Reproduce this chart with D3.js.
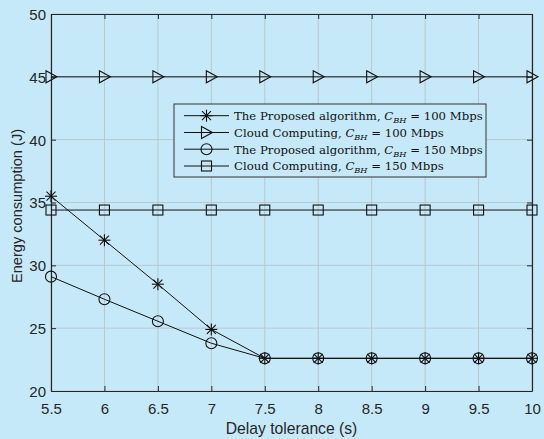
<!DOCTYPE html>
<html><head><meta charset="utf-8">
<script src="https://cdn.jsdelivr.net/npm/d3@7"></script>
<style>html,body{margin:0;padding:0;background:#c6e9f9;}svg{display:block;}</style>
</head><body>
<svg id="c" width="544" height="439"></svg>
<script>
const delays = [5.5, 6, 6.5, 7, 7.5, 8, 8.5, 9, 9.5, 10];
const proposed100 = [35.5, 32.0, 28.5, 24.9, 22.6, 22.6, 22.6, 22.6, 22.6, 22.6];
const cloud100 = [45, 45, 45, 45, 45, 45, 45, 45, 45, 45];
const proposed150 = [29.1, 27.3, 25.55, 23.8, 22.6, 22.6, 22.6, 22.6, 22.6, 22.6];
const cloud150 = [34.4, 34.4, 34.4, 34.4, 34.4, 34.4, 34.4, 34.4, 34.4, 34.4];
const xTicks = [5.5, 6, 6.5, 7, 7.5, 8, 8.5, 9, 9.5, 10];
const yTicks = [20, 25, 30, 35, 40, 45, 50];
const seriesNames = ["The Proposed algorithm, ", "Cloud Computing, ", "The Proposed algorithm, ", "Cloud Computing, "];
const seriesRates = ["100", "100", "150", "150"];
const seriesMarkers = ["asterisk", "triangle", "circle", "square"];

const svg = d3.select("#c");
const L = 51, R = 532, T = 14, B = 391;
const x = d3.scaleLinear().domain([5.5, 10]).range([L, R]);
const y = d3.scaleLinear().domain([20, 50]).range([B, T]);
const ink = "#262626";

// grid
svg.append("g").selectAll("line").data(xTicks).join("line")
  .attr("x1", d => x(d)).attr("x2", d => x(d)).attr("y1", T).attr("y2", B)
  .attr("stroke", "#b9c7cf").attr("stroke-width", 1);
svg.append("g").selectAll("line").data(yTicks).join("line")
  .attr("y1", d => y(d)).attr("y2", d => y(d)).attr("x1", L).attr("x2", R)
  .attr("stroke", "#b9c7cf").attr("stroke-width", 1);

// axes
const xa = svg.append("g").attr("transform", `translate(0,${B})`)
  .call(d3.axisBottom(x).tickValues(xTicks).tickSizeInner(-5).tickSizeOuter(0).tickPadding(12).tickFormat(d3.format("")));
const xt = svg.append("g").attr("transform", `translate(0,${T})`)
  .call(d3.axisTop(x).tickValues(xTicks).tickSizeInner(-5).tickSizeOuter(0).tickFormat(""));
const ya = svg.append("g").attr("transform", `translate(${L},0)`)
  .call(d3.axisLeft(y).tickValues(yTicks).tickSizeInner(-5).tickSizeOuter(0).tickPadding(5));
const yr = svg.append("g").attr("transform", `translate(${R},0)`)
  .call(d3.axisRight(y).tickValues(yTicks).tickSizeInner(-5).tickSizeOuter(0).tickFormat(""));
[xa, xt, ya, yr].forEach(g => {
  g.select(".domain").attr("stroke", ink).attr("stroke-width", 1.2);
  g.selectAll(".tick line").attr("stroke", ink);
  g.selectAll("text").attr("fill", ink).style("font-family", "Liberation Sans, Arial, sans-serif").style("font-size", "15px");
});
ya.selectAll("text").attr("dy", "0.36em");

// axis labels
svg.append("text").attr("x", (L + R) / 2).attr("y", 434).attr("text-anchor", "middle")
  .attr("fill", ink).style("font-family", "Liberation Sans, Arial, sans-serif").style("font-size", "15.7px")
  .text("Delay tolerance (s)");
svg.append("text").attr("transform", `translate(22,206) rotate(-90)`).attr("text-anchor", "middle")
  .attr("fill", ink).style("font-family", "Liberation Sans, Arial, sans-serif").style("font-size", "14.6px")
  .text("Energy consumption (J)");

function marker(g, type, cx, cy) {
  if (type === "asterisk") {
    const s = 6;
    const p = g.append("g").attr("stroke", "#111").attr("stroke-width", 1.1);
    p.append("line").attr("x1", cx - s).attr("x2", cx + s).attr("y1", cy).attr("y2", cy);
    p.append("line").attr("x1", cx).attr("x2", cx).attr("y1", cy - s).attr("y2", cy + s);
    const d = s * 0.75;
    p.append("line").attr("x1", cx - d).attr("x2", cx + d).attr("y1", cy - d).attr("y2", cy + d);
    p.append("line").attr("x1", cx - d).attr("x2", cx + d).attr("y1", cy + d).attr("y2", cy - d);
  } else if (type === "triangle") {
    g.append("path").attr("d", `M${cx - 5},${cy - 6}L${cx + 6},${cy}L${cx - 5},${cy + 6}Z`)
      .attr("fill", "none").attr("stroke", "#111").attr("stroke-width", 1.1);
  } else if (type === "circle") {
    g.append("circle").attr("cx", cx).attr("cy", cy).attr("r", 5.5)
      .attr("fill", "none").attr("stroke", "#111").attr("stroke-width", 1.1);
  } else {
    g.append("rect").attr("x", cx - 5).attr("y", cy - 5).attr("width", 10).attr("height", 10)
      .attr("fill", "none").attr("stroke", "#111").attr("stroke-width", 1.1);
  }
}

const allSeries = [proposed100, cloud100, proposed150, cloud150];
const line = d3.line().x((d, i) => x(delays[i])).y(d => y(d));
allSeries.forEach((vals, k) => {
  const g = svg.append("g");
  g.append("path").attr("d", line(vals)).attr("fill", "none").attr("stroke", "#111").attr("stroke-width", 1);
  vals.forEach((v, i) => marker(g, seriesMarkers[k], x(delays[i]), y(v)));
});

// legend
const lg = svg.append("g");
lg.append("rect").attr("x", 174).attr("y", 104).attr("width", 312).attr("height", 73)
  .attr("fill", "#c6e9f9").attr("stroke", "#333").attr("stroke-width", 1);
const rows = [115.7, 132.5, 149.2, 166];
seriesNames.forEach((nm, k) => {
  const yy = rows[k];
  lg.append("line").attr("x1", 184).attr("x2", 229).attr("y1", yy).attr("y2", yy).attr("stroke", "#111").attr("stroke-width", 1);
  marker(lg, seriesMarkers[k], 206.5, yy);
  const t = lg.append("text").attr("x", 234).attr("y", yy + 4.3)
    .attr("fill", "#111").style("font-family", "DejaVu Serif, serif").style("font-size", "11.7px");
  t.append("tspan").text(nm);
  t.append("tspan").style("font-style", "italic").text("C");
  t.append("tspan").attr("dy", 3).style("font-style", "italic").style("font-size", "8.2px").text("BH");
  t.append("tspan").attr("dy", -3).text(" = " + seriesRates[k] + " Mbps");
});
</script>
</body></html>
